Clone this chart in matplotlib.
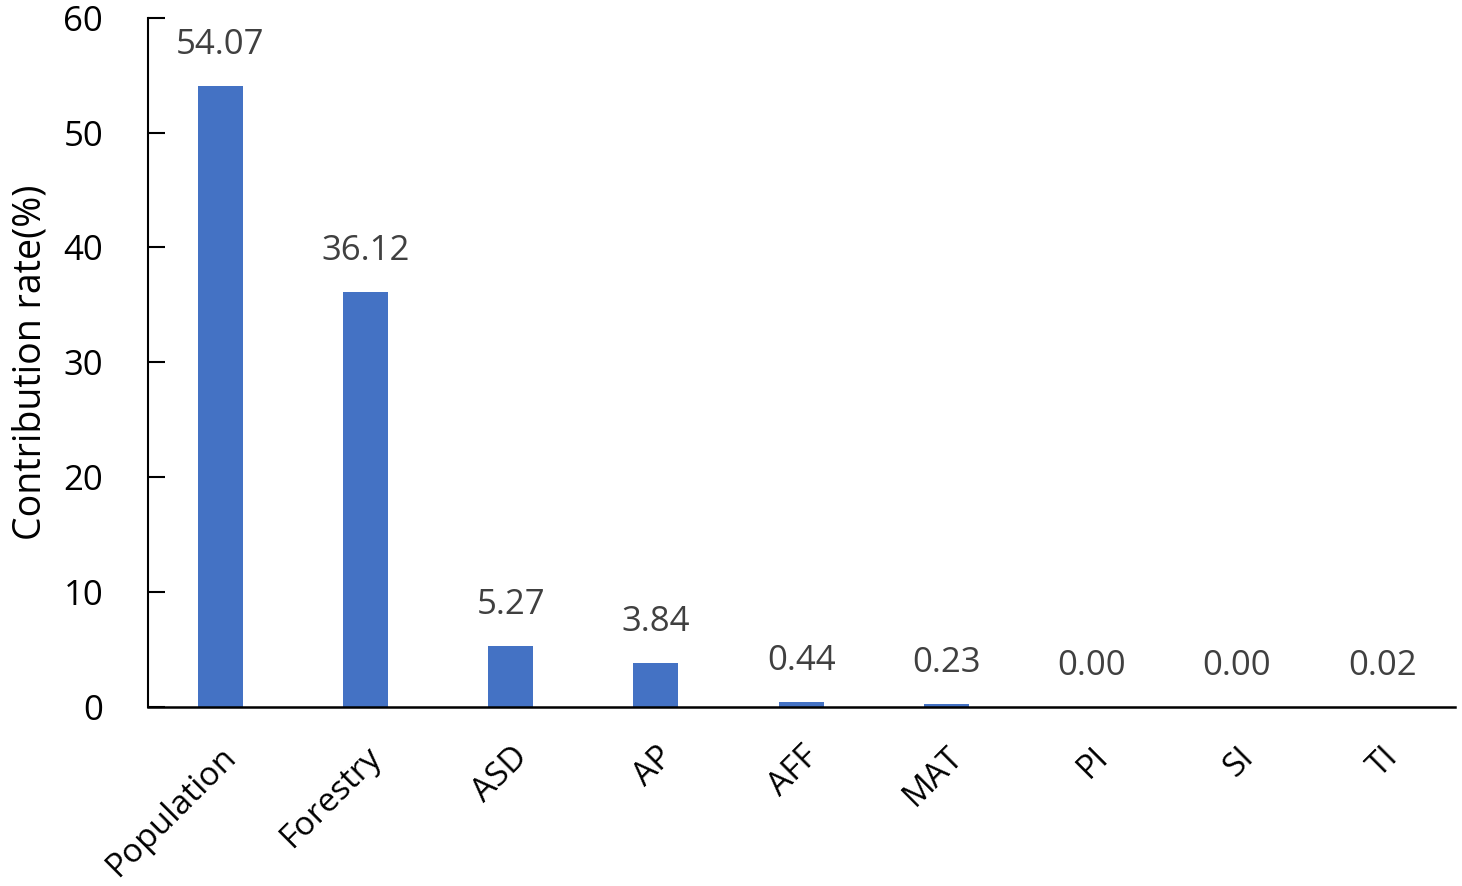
import matplotlib
matplotlib.use("Agg")
import matplotlib.pyplot as plt
from matplotlib import transforms

# data
FACTORS = ["Population", "Forestry", "ASD", "AP", "AFF", "MAT", "PI", "SI", "TI"]
CONTRIB = [54.07, 36.12, 5.27, 3.84, 0.44, 0.23, 0.00, 0.00, 0.02]
Y_TICKS = [0, 10, 20, 30, 40, 50, 60]

BAR_BLUE = "#4472C4"
LABEL_GREY = "#404040"

plt.rcParams.update({
    "font.family": ["Open Sans", "DejaVu Sans"],
    "font.size": 25,
})

fig = plt.figure(figsize=(14.62, 8.86), dpi=100)
ax = fig.add_axes([0.101, 0.202, 0.894, 0.778])

x = range(len(FACTORS))
ax.bar(x, CONTRIB, width=0.31, color=BAR_BLUE, zorder=2)

# value labels, a fixed distance above each bar
offset = transforms.offset_copy(ax.transData, fig=fig, x=0, y=24, units="dots")
for xi, v in zip(x, CONTRIB):
    ax.text(xi, v, f"{v:.2f}", transform=offset, ha="center", va="bottom",
            color=LABEL_GREY, fontsize=25)

ax.set_xlim(-0.5, len(FACTORS) - 0.5)
ax.set_ylim(0, 60)
ax.set_yticks(Y_TICKS)
ax.tick_params(axis="y", direction="in", length=12, width=1.5, labelsize=25, pad=32)
ax.tick_params(axis="x", length=0, pad=24)
ax.set_xticks(list(x))
ax.set_xticklabels(FACTORS, rotation=45, ha="right", rotation_mode="anchor", fontsize=24)

ax.spines["top"].set_visible(False)
ax.spines["right"].set_visible(False)
ax.spines["left"].set_linewidth(1.5)
ax.spines["bottom"].set_linewidth(1.8)
ax.set_ylabel("Contribution rate(%)", fontsize=27, labelpad=10)

fig.savefig("out.png", dpi=100)
